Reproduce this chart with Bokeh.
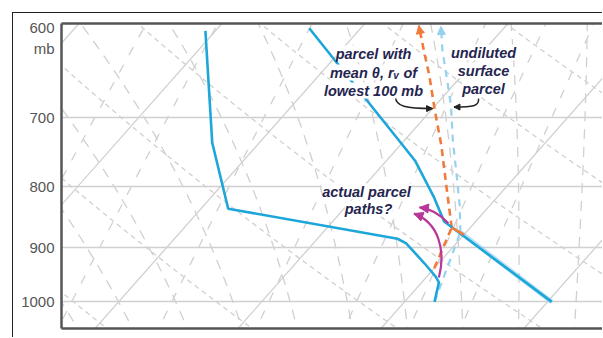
import numpy as np
from bokeh.plotting import figure
from bokeh.models import (Range1d, FixedTicker, LinearAxis, Label, Arrow,
                          NormalHead, NumeralTickFormatter)
from bokeh.embed import file_html
from bokeh.resources import INLINE

# ---- observed sounding: pressure (mb), temperature / dewpoint (deg C) ----
temp_p = [589, 740, 761, 817, 856, 1000]
temp_T = [-3.6, 10.3, 12.0, 15.6, 17.8, 30.3]

dewp_p = [592, 735, 835, 885, 893, 928, 952, 963, 1000]
dewp_T = [-10.7, -3.3, 1.9, 15.6, 16.5, 19.0, 20.6, 21.2, 22.1]

# parcel with mean theta and r_v of the lowest 100 mb
ml_dry_p = [878, 866]
ml_dry_T = [20.0, 18.7]
ml_mix_p = [937, 866]
ml_mix_T = [20.0, 18.7]
ml_moist_p = [866, 798, 739, 691, 645, 615, 586]
ml_moist_T = [18.7, 15.7, 12.9, 10.3, 7.7, 5.8, 3.9]

# undiluted surface parcel
sfc_dry_p = [1000, 874]
sfc_dry_T = [30.3, 19.6]
sfc_mix_p = [1000, 874]
sfc_mix_T = [22.1, 19.6]
sfc_moist_p = [874, 830, 776, 732, 684, 645, 615, 587]
sfc_moist_T = [19.6, 17.9, 15.5, 13.4, 11.1, 8.9, 7.1, 5.5]

# ---- diagram background ----
pressure_ticks = [600, 700, 800, 900, 1000]
isobars = [700, 800, 900, 1000]
isotherms = list(range(-60, 50, 10))          # deg C
dry_theta = list(range(250, 380, 10))         # K
moist_thw = list(range(-12, 40, 4))           # wet-bulb potential temperature, deg C
mix_ratios = [1, 2, 3, 5, 8, 12, 16, 20]      # g/kg

# ---- annotation curves: start, control, control, tip as (T, p) ----
path_a = [(20.9, 954), (19.7, 905), (17.5, 858), (15.2, 843)]
path_b = [(18.2, 859), (17.1, 844.5), (16.0, 835), (15.2, 833)]
ptr_ml = [(6.7, 673), (7.3, 685), (8.1, 688), (10.0, 688)]
ptr_sfc = [(12.6, 675), (13.15, 685), (12.7, 686), (11.4, 686)]

SKEW = 32.0
P_TOP, P_BOT = 583.6, 1052.8
Rd, cp, Lv, eps = 287.04, 1005.7, 2.501e6, 0.622


def skew_x(T, p):
    return np.asarray(T, float) + SKEW * np.log(1000.0 / np.asarray(p, float))


def sat_vp(tc):
    return 6.112 * np.exp(17.67 * tc / (tc + 243.5))


def dewpoint_from_e(e):
    a = np.log(e / 6.112)
    return 243.5 * a / (17.67 - a)


def moist_rate(T, p):
    es = sat_vp(T - 273.15)
    rs = eps * es / (p - es)
    return (Rd * T + Lv * rs) / (cp + Lv ** 2 * rs * eps / (Rd * T ** 2)) / p


def integrate(T0, levels):
    T = T0
    out = [T]
    for i in range(1, len(levels)):
        p0, dp = levels[i - 1], levels[i] - levels[i - 1]
        k1 = moist_rate(T, p0)
        k2 = moist_rate(T + 0.5 * dp * k1, p0 + 0.5 * dp)
        T = T + dp * k2
        out.append(T)
    return np.array(out)


def moist_adiabat(thw):
    up = np.geomspace(1000, 570, 70)
    down = np.geomspace(1000, 1070, 8)
    t_up = integrate(thw + 273.15, up)
    t_dn = integrate(thw + 273.15, down)
    p_all = np.concatenate([down[::-1], up[1:]])
    t_all = np.concatenate([t_dn[::-1], t_up[1:]]) - 273.15
    return t_all, p_all


levels = np.geomspace(1070, 570, 60)

p = figure(width=590, height=325,
           x_range=Range1d(-3.99, 33.92), y_range=Range1d(P_BOT, P_TOP),
           y_axis_type="log", output_backend="svg", toolbar_location=None,
           min_border_left=48, min_border_right=0,
           min_border_top=10, min_border_bottom=10)
p.styles = {"margin-left": "12px", "margin-top": "12px",
            "border-left": "1px solid #222222", "border-top": "1px solid #222222"}
p.outline_line_color = None
p.background_fill_color = "white"
p.border_fill_color = "white"

grid_col = "#d0d0d0"
p.xgrid.visible = False
p.ygrid.ticker = FixedTicker(ticks=isobars)
p.ygrid.grid_line_color = grid_col
p.ygrid.grid_line_width = 1.4

frame_col = "#555555"
yax = p.yaxis[0]
yax.ticker = FixedTicker(ticks=pressure_ticks, minor_ticks=[])
yax.formatter = NumeralTickFormatter(format="0")
yax.major_label_overrides = {600: "600\nmb"}
yax.major_tick_line_color = None
yax.minor_tick_line_color = None
yax.major_tick_out = 0
yax.major_label_standoff = 7
yax.major_label_text_font = "Liberation Sans"
yax.major_label_text_font_size = "15px"
yax.major_label_text_color = frame_col
yax.axis_line_color = frame_col
yax.axis_line_width = 2.5

for ax in (p.xaxis[0], ):
    ax.ticker = FixedTicker(ticks=[], minor_ticks=[])
    ax.major_tick_line_color = None
    ax.minor_tick_line_color = None
    ax.major_tick_out = 0
    ax.minor_tick_out = 0
    ax.major_label_standoff = 0
    ax.major_label_text_font_size = "0px"
    ax.axis_line_color = frame_col
    ax.axis_line_width = 2.5

top_ax = LinearAxis(ticker=FixedTicker(ticks=[], minor_ticks=[]),
                    major_tick_line_color=None, minor_tick_line_color=None,
                    major_tick_out=0, minor_tick_out=0, major_label_standoff=0,
                    major_label_text_font_size="0px",
                    axis_line_color=frame_col, axis_line_width=2.5)
p.add_layout(top_ax, "above")

# isotherms (straight in skew/log-p space)
iso_p = [P_BOT + 30, P_TOP - 30]
p.multi_line(xs=[list(skew_x([t, t], iso_p)) for t in isotherms],
             ys=[iso_p for _ in isotherms], line_color=grid_col, line_width=1.3)

# dry adiabats
dry_xs = [list(skew_x(th * (levels / 1000.0) ** (Rd / cp) - 273.15, levels)) for th in dry_theta]
p.multi_line(xs=dry_xs, ys=[list(levels) for _ in dry_theta],
             line_color=grid_col, line_width=1.3, line_dash="5 4")

# saturated (pseudo) adiabats
m_xs, m_ys = [], []
for thw in moist_thw:
    t_m, p_m = moist_adiabat(thw)
    m_xs.append(list(skew_x(t_m, p_m)))
    m_ys.append(list(p_m))
p.multi_line(xs=m_xs, ys=m_ys, line_color=grid_col, line_width=1.3, line_dash="10 8")

# saturation mixing-ratio lines
w_xs = []
for w in mix_ratios:
    wk = w / 1000.0
    e = wk * levels / (eps + wk)
    w_xs.append(list(skew_x(dewpoint_from_e(e), levels)))
p.multi_line(xs=w_xs, ys=[list(levels) for _ in mix_ratios],
             line_color=grid_col, line_width=1.3, line_dash="9 11")

blue = "#1ca6da"
orange = "#f07b3b"
light = "#94d2f0"
magenta = "#b8389a"

# undiluted surface parcel
p.line(skew_x(sfc_dry_T, sfc_dry_p), sfc_dry_p, line_color=light, line_width=4.5, line_alpha=0.7)
p.line(skew_x(sfc_mix_T, sfc_mix_p), sfc_mix_p, line_color=light, line_width=2.2, line_dash="7 6")
p.line(skew_x(sfc_moist_T, sfc_moist_p), sfc_moist_p, line_color=light, line_width=2.2, line_dash="7 6")

# mixed-layer parcel
p.line(skew_x(ml_mix_T, ml_mix_p), ml_mix_p, line_color=orange, line_width=2.6, line_dash="7 5")
p.line(skew_x(ml_moist_T, ml_moist_p), ml_moist_p, line_color=orange, line_width=2.6, line_dash="7 5")

# sounding
p.line(skew_x(dewp_T, dewp_p), dewp_p, line_color=blue, line_width=2.6)
p.line(skew_x(temp_T, temp_p), temp_p, line_color=blue, line_width=2.6)

p.line(skew_x(ml_dry_T, ml_dry_p), ml_dry_p, line_color=orange, line_width=2.6)


def bez(path, **kw):
    (t0, p0), (t1, p1), (t2, p2), (t3, p3) = path
    p.bezier(x0=[float(skew_x(t0, p0))], y0=[p0],
             cx0=[float(skew_x(t1, p1))], cy0=[p1],
             cx1=[float(skew_x(t2, p2))], cy1=[p2],
             x1=[float(skew_x(t3, p3))], y1=[p3], **kw)


def head(t_from, p_from, t_to, p_to, color, size):
    p.add_layout(Arrow(end=NormalHead(size=size, fill_color=color, line_color=color),
                       x_start=float(skew_x(t_from, p_from)), y_start=p_from,
                       x_end=float(skew_x(t_to, p_to)), y_end=p_to,
                       line_alpha=0))


bez(path_a, line_color=magenta, line_width=2.2)
bez(path_b, line_color=magenta, line_width=2.2)
bez(ptr_ml, line_color="#222222", line_width=1.5)
bez(ptr_sfc, line_color="#222222", line_width=1.5)

# captions
cap_col = "#25254f"
cap_font = "Liberation Sans"


def caption(text, x, y, size="14.5px"):
    p.add_layout(Label(x=x, y=y, x_units="screen", y_units="screen", text=text,
                       text_font=cap_font, text_font_size=size,
                       text_font_style="bold italic", text_color=cap_col,
                       text_align="center", text_baseline="middle",
                       background_fill_color="white"))


caption("parcel with", 312, 275)
caption("mean θ, rᵥ of", 312, 256)
caption("lowest 100 mb", 312, 238)
caption("undiluted", 422, 276)
caption("surface", 422, 258)
caption("parcel", 422, 240)
caption("actual parcel", 305, 137)
caption("paths?", 307, 120)

# arrow heads
head(*path_a[2], *path_a[3], magenta, 9)
head(*path_b[2], *path_b[3], magenta, 9)
head(*ptr_ml[2], *ptr_ml[3], "#222222", 6)
head(*ptr_sfc[2], *ptr_sfc[3], "#222222", 6)
head(ml_moist_T[-2], ml_moist_p[-2], ml_moist_T[-1], ml_moist_p[-1], orange, 8)
head(sfc_moist_T[-2], sfc_moist_p[-2], sfc_moist_T[-1], sfc_moist_p[-1], light, 8)

open("out.html", "w").write(file_html(p, INLINE))
